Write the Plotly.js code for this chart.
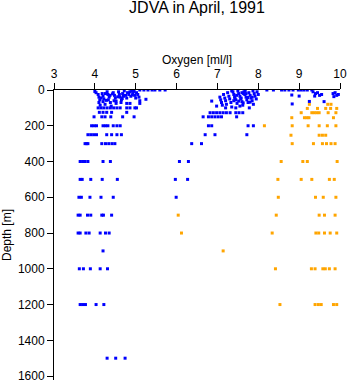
<!DOCTYPE html>
<html>
<head>
<meta charset="utf-8">
<script src="https://cdn.plot.ly/plotly-3.0.1.min.js"></script>
<style>html,body{margin:0;padding:0;background:#fff;}#chart{width:348px;height:384px;}</style>
</head>
<body>
<div id="chart"></div>
<script>
// Blue series: oxygen [ml/l] and depth [m]
const blueOxygen = [
  // surface
  5.10,5.20,5.30,5.40,5.47,5.59,5.72,
  8.21,8.37,8.57,8.65,8.75,8.85,8.98,9.05,9.12,9.20,9.31,
  // left cluster 0-100 m
  4.00,4.03,4.08,4.10,4.12,4.10,4.13,
  4.18,4.20,4.22,4.20,4.25,
  4.30,4.32,4.35,4.33,4.38,4.40,
  4.45,4.48,4.50,4.47,4.52,
  4.58,4.60,4.62,4.65,4.68,4.70,4.72,4.75,4.78,4.80,4.83,4.86,4.88,4.90,4.93,4.96,4.98,5.00,5.02,5.05,5.08,5.10,
  4.78,4.86,5.10,5.25,
  4.08,4.15,4.22,4.30,4.38,4.46,4.54,4.62,5.02,4.78,4.86,4.98,
  4.26,4.37,4.43,4.56,4.67,4.92,4.15,4.28,4.52,4.64,
  // 125, 150
  4.11,4.20,4.29,4.41,4.78,
  3.98,4.17,4.25,4.39,4.68,4.96,
  // 200, 250, 300
  3.92,3.98,4.04,4.20,4.26,4.32,4.45,4.54,4.62,
  3.83,3.90,3.97,4.04,4.29,4.41,4.54,4.65,
  3.76,3.80,3.83,4.17,4.26,4.34,4.42,4.49,
  // 400 - 1500
  3.64,3.70,3.76,3.83,4.20,4.38,
  3.64,3.69,3.90,4.18,4.55,
  3.61,3.67,3.88,4.15,4.45,
  3.59,3.64,3.82,3.90,4.17,4.21,4.41,
  3.59,3.64,3.78,3.86,4.13,4.26,4.35,
  4.20,
  3.62,3.72,3.89,4.13,4.31,
  3.64,3.70,3.77,4.03,4.22,
  4.30,4.51,4.74,
  // middle cluster 0-100 m
  7.06,7.08,7.10,7.12,7.15,7.18,7.20,7.22,7.25,7.28,7.30,7.33,7.35,7.38,7.40,7.42,7.45,7.48,
  7.50,7.52,7.55,7.57,7.60,7.62,7.65,7.67,7.70,7.72,7.75,7.77,7.80,7.82,7.85,7.87,7.90,7.92,
  7.95,7.97,8.00,7.88,7.78,7.45,7.20,7.55,7.68,7.35,7.60,7.85,7.40,7.70,
  7.47,7.58,7.64,7.74,7.52,7.63,7.43,7.80,
  6.86,6.98,
  // middle cluster deeper
  6.82,6.90,6.98,7.06,7.14,7.22,7.31,7.45,7.53,7.62,
  6.65,6.78,6.86,6.94,7.02,7.10,7.47,
  6.78,6.86,7.75,7.88,
  6.70,6.94,7.72,
  6.37,6.61,
  6.07,6.29,
  5.97,6.27,
  5.99,
  // right shallow
  8.82,9.00,8.83,9.34,9.40,9.45,9.50,9.55,9.38,9.25,9.61,9.83,9.88,9.92,9.85,9.96
];
const blueDepth = [
  0,0,0,0,0,0,0,
  0,0,0,0,0,0,0,0,0,0,0,
  8,15,25,40,55,70,85,
  20,35,50,65,80,
  10,25,40,55,70,90,
  15,30,45,60,75,
  10,25,40,55,20,35,5,30,45,15,25,10,35,5,20,8,30,45,15,25,40,60,
  75,75,75,52,
  100,100,100,100,100,100,100,100,100,100,100,100,
  20,30,22,38,48,28,45,58,62,70,
  125,125,125,125,125,
  150,150,150,150,150,150,
  200,200,200,200,200,200,200,200,200,
  250,250,250,250,250,250,250,250,
  300,300,300,300,300,300,300,300,
  400,400,400,400,400,400,
  500,500,500,500,500,
  600,600,600,600,600,
  700,700,700,700,700,700,700,
  800,800,800,800,800,800,800,
  900,
  1000,1000,1000,1000,1000,
  1200,1200,1200,1200,1200,
  1500,1500,1500,
  40,55,70,85,25,45,60,80,15,35,50,70,95,10,25,40,55,75,
  5,20,35,50,65,85,10,25,40,55,70,15,30,45,60,5,20,35,
  50,10,25,80,100,100,100,90,5,5,15,40,60,20,
  30,45,20,42,62,72,48,68,
  62,90,
  127,127,127,127,127,127,127,127,127,127,
  150,150,150,150,150,150,150,
  200,200,200,200,
  250,250,250,
  300,300,
  400,400,
  500,500,
  600,
  28,34,78,10,20,15,30,25,34,64,65,20,15,30,37,25
];

// Orange series: oxygen [ml/l] and depth [m]
const orangeOxygen = [
  9.25,9.70,9.78,
  9.20,9.45,9.65,9.77,9.92,
  9.05,9.31,9.37,9.43,9.49,9.71,9.90,
  8.82,9.13,9.19,9.24,9.84,
  8.15,8.83,9.22,9.49,9.69,9.90,
  8.80,9.49,9.57,9.65,
  8.83,9.35,9.57,9.67,9.78,9.88,
  8.56,9.09,9.20,9.93,
  8.48,9.05,9.31,9.74,9.86,
  8.49,9.40,9.59,9.90,
  6.04,8.44,9.49,9.62,9.88,
  6.12,8.34,9.41,9.48,9.62,9.76,9.92,
  7.14,
  8.42,9.30,9.39,9.58,9.64,9.74,9.88,
  8.53,9.39,9.47,9.54,9.84,9.92
];
const orangeDepth = [
  80,80,80,
  103,103,103,103,103,
  127,127,127,127,127,127,127,
  155,155,155,155,155,
  200,200,200,200,200,200,
  253,253,253,253,
  300,300,300,300,300,300,
  400,400,400,400,
  500,500,500,500,500,
  600,600,600,600,
  700,700,700,700,700,
  800,800,800,800,800,800,800,
  900,
  1000,1000,1000,1000,1000,1000,1000,
  1200,1200,1200,1200,1200,1200
];

const xTicks = [3,4,5,6,7,8,9,10];
const yTicks = [0,200,400,600,800,1000,1200,1400,1600];

const font = 'Liberation Sans, Arial, sans-serif';

const traces = [
  {x: orangeOxygen, y: orangeDepth, type: 'scatter', mode: 'markers',
   marker: {symbol: 'square', size: 3, color: '#ffa500', line: {width: 0}}, hoverinfo: 'skip'},
  {x: blueOxygen, y: blueDepth, type: 'scatter', mode: 'markers',
   marker: {symbol: 'square', size: 3, color: '#0000ff', line: {width: 0}}, hoverinfo: 'skip'}
];

const layout = {
  width: 348, height: 384,
  margin: {l: 54, r: 8, t: 90, b: 4, pad: 0},
  paper_bgcolor: '#fff', plot_bgcolor: '#fff',
  showlegend: false,
  font: {family: font, size: 12, color: '#000'},
  title: {text: 'JDVA in April, 1991', font: {family: font, size: 16, color: '#000'},
          x: 0.5, xref: 'paper', y: 0.995, yanchor: 'top'},
  xaxis: {
    side: 'top', range: [3, 10], tickvals: xTicks, ticktext: xTicks.map(String),
    ticks: 'outside', ticklen: 6, tickwidth: 1, tickcolor: '#000',
    showline: true, linecolor: '#000', linewidth: 1, showgrid: false, zeroline: false,
    tickfont: {size: 12}, title: {text: 'Oxygen [ml/l]', font: {size: 12}, standoff: 0}
  },
  yaxis: {
    range: [1622, 0], tickvals: yTicks, ticktext: yTicks.map(String),
    ticks: 'outside', ticklen: 6, tickwidth: 1, tickcolor: '#000',
    showline: true, linecolor: '#000', linewidth: 1, showgrid: false, zeroline: false,
    tickfont: {size: 12}, title: {text: 'Depth [m]', font: {size: 12}, standoff: 6}
  }
};

Plotly.newPlot('chart', traces, layout, {staticPlot: true, displayModeBar: false});
</script>
</body>
</html>
